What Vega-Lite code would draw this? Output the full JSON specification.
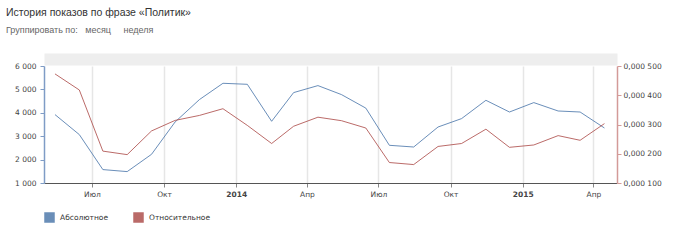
{
  "$schema": "https://vega.github.io/schema/vega-lite/v6.json",
  "width": 573,
  "height": 117,
  "autosize": {"type": "none"},
  "padding": {"left": 44, "top": 66, "right": 63, "bottom": 61},
  "background": "white",
  "config": {"view": {"stroke": null}, "font": "DejaVu Sans"},
  "title": {
    "text": "История показов по фразе «Политик»",
    "subtitle": "Группировать по:\u00a0\u00a0\u00a0месяц\u00a0\u00a0\u00a0\u00a0\u00a0неделя",
    "anchor": "start",
    "frame": "group",
    "dx": -38,
    "offset": 24,
    "font": "Liberation Sans",
    "fontSize": 10.5,
    "fontWeight": "normal",
    "color": "#333333",
    "subtitleFont": "Liberation Sans",
    "subtitleFontSize": 9,
    "subtitleColor": "#666666",
    "subtitlePadding": 8
  },
  "data": {
    "values": [
      {"month": "2013-05-15", "abs": 3923, "rel": 0.000473},
      {"month": "2013-06-15", "abs": 3068, "rel": 0.000418},
      {"month": "2013-07-15", "abs": 1573, "rel": 0.000209},
      {"month": "2013-08-15", "abs": 1487, "rel": 0.000197},
      {"month": "2013-09-15", "abs": 2226, "rel": 0.000278},
      {"month": "2013-10-15", "abs": 3607, "rel": 0.000314},
      {"month": "2013-11-15", "abs": 4564, "rel": 0.000331},
      {"month": "2013-12-15", "abs": 5261, "rel": 0.000354},
      {"month": "2014-01-15", "abs": 5218, "rel": 0.000297},
      {"month": "2014-02-15", "abs": 3637, "rel": 0.000235},
      {"month": "2014-03-15", "abs": 4863, "rel": 0.000294},
      {"month": "2014-04-15", "abs": 5162, "rel": 0.000325},
      {"month": "2014-05-15", "abs": 4778, "rel": 0.000313},
      {"month": "2014-06-15", "abs": 4200, "rel": 0.000288},
      {"month": "2014-07-15", "abs": 2611, "rel": 0.000170},
      {"month": "2014-08-15", "abs": 2538, "rel": 0.000163},
      {"month": "2014-09-15", "abs": 3393, "rel": 0.000225},
      {"month": "2014-10-15", "abs": 3752, "rel": 0.000235},
      {"month": "2014-11-15", "abs": 4534, "rel": 0.000284},
      {"month": "2014-12-15", "abs": 4034, "rel": 0.000222},
      {"month": "2015-01-15", "abs": 4436, "rel": 0.000230},
      {"month": "2015-02-15", "abs": 4077, "rel": 0.000262},
      {"month": "2015-03-15", "abs": 4034, "rel": 0.000246},
      {"month": "2015-04-15", "abs": 3350, "rel": 0.000303}
    ]
  },
  "layer": [
    {
      "mark": {"type": "line", "strokeWidth": 1, "opacity": 0.8},
      "encoding": {
        "x": {
          "field": "month",
          "type": "temporal",
          "scale": {"type": "utc", "domain": [{"year": 2013, "month": 5, "date": 1, "utc": true}, {"year": 2015, "month": 5, "date": 1, "utc": true}]},
          "axis": {
            "orient": "bottom",
            "title": null,
            "tickCount": {"interval": "month", "step": 3},
            "labelExpr": "utcmonth(datum.value)==0 ? ''+utcyear(datum.value) : ['Янв','Фев','Мар','Апр','Май','Июн','Июл','Авг','Сен','Окт','Ноя','Дек'][utcmonth(datum.value)]",
            "labelFontWeight": {"condition": {"test": "utcmonth(datum.value)==0", "value": "bold"}, "value": "normal"},
            "labelFontSize": 7.5,
            "labelColor": "#444444",
            "labelPadding": 3,
            "tickSize": 4,
            "tickColor": "#888888",
            "domainColor": "#555555",
            "domainWidth": 1,
            "grid": true,
            "gridColor": "#e6e6e6",
            "gridWidth": 1.5
          }
        },
        "y": {
          "field": "abs",
          "type": "quantitative",
          "scale": {"domain": [1000, 6000], "nice": false, "zero": false},
          "axis": {
            "orient": "left",
            "title": null,
            "values": [1000, 2000, 3000, 4000, 5000, 6000],
            "labelExpr": "replace(format(datum.value, ','), ',', ' ')",
            "labelFontSize": 7.5,
            "labelColor": "#444444",
            "labelPadding": 4,
            "tickSize": 4,
            "tickColor": "#7f9cc6",
            "domainColor": "#7f9cc6",
            "domainWidth": 1.5,
            "grid": false
          }
        },
        "color": {
          "datum": "Абсолютное",
          "scale": {"domain": ["Абсолютное", "Относительное"], "range": ["#4572A7", "#AA4643"]},
          "legend": {
            "orient": "none",
            "legendX": 0,
            "legendY": 146,
            "direction": "horizontal",
            "title": null,
            "symbolType": "square",
            "symbolSize": 25,
            "symbolStrokeWidth": 5.5,
            "symbolOpacity": 1,
            "labelFontSize": 7.5,
            "labelColor": "#333333",
            "labelOffset": 5,
            "columnPadding": 16
          }
        }
      }
    },
    {
      "mark": {"type": "line", "strokeWidth": 1, "opacity": 0.8},
      "encoding": {
        "x": {
          "field": "month",
          "type": "temporal",
          "axis": {"orient": "top", "title": null, "labels": false, "ticks": false, "grid": false, "domainColor": "#eeeeee", "domainWidth": 12, "offset": 7}
        },
        "y": {
          "field": "rel",
          "type": "quantitative",
          "scale": {"domain": [0.0001, 0.0005], "nice": false, "zero": false},
          "axis": {
            "orient": "right",
            "title": null,
            "values": [0.0001, 0.0002, 0.0003, 0.0004, 0.0005],
            "labelExpr": "'0,000 ' + format(round(datum.value*1000000), '03d')",
            "labelFontSize": 7.5,
            "labelColor": "#444444",
            "labelPadding": 2,
            "tickSize": 4,
            "tickColor": "#d39a98",
            "domainColor": "#d39a98",
            "domainWidth": 1.5,
            "grid": false
          }
        },
        "color": {"datum": "Относительное"}
      }
    }
  ],
  "resolve": {"scale": {"y": "independent"}, "axis": {"x": "independent"}}
}
